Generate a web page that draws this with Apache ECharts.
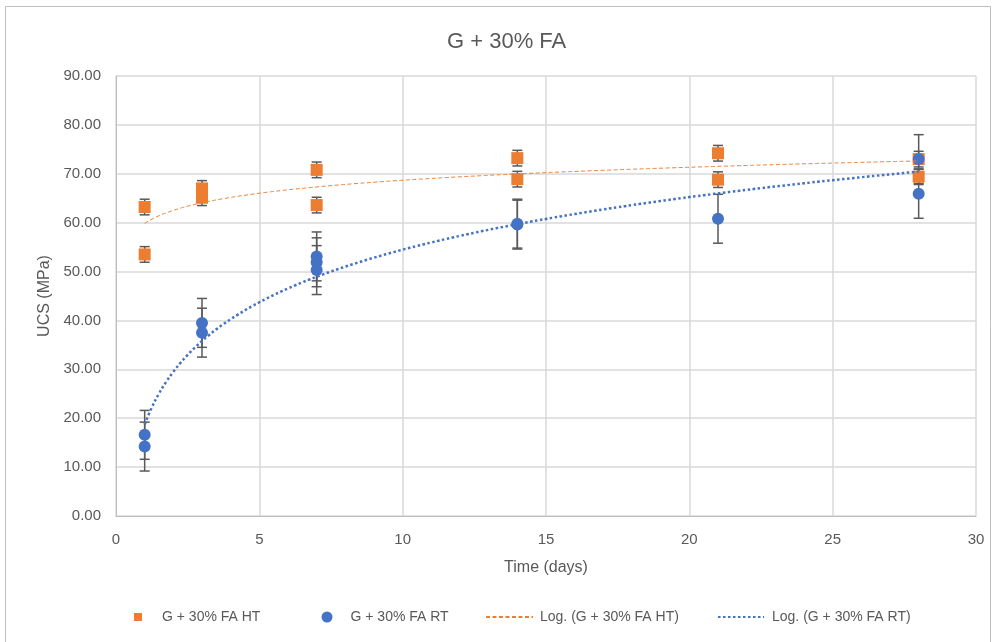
<!DOCTYPE html>
<html><head><meta charset="utf-8">
<script src="https://cdn.jsdelivr.net/npm/echarts@6/dist/echarts.min.js"></script>
<style>html,body{margin:0;padding:0;background:#fff}#c{width:997px;height:642px}</style>
</head><body><div id="c"></div>
<script>
// ---- data ----
const htDays   = [1, 1, 3, 3, 7, 7, 14, 14, 21, 21, 28, 28];
const htUCS    = [63.2, 53.5, 67.0, 65.1, 70.8, 63.6, 73.2, 68.9, 74.2, 68.8, 73.0, 69.4];
const htErr    = [1.6, 1.6, 1.6, 1.6, 1.6, 1.6, 1.6, 1.6, 1.6, 1.6, 1.6, 1.6];
const rtDays   = [1, 1, 3, 3, 7, 7, 7, 14, 14, 21, 28, 28];
const rtUCS    = [16.6, 14.2, 39.5, 37.5, 53.1, 51.9, 50.3, 59.6, 59.8, 60.8, 73.0, 65.9];
const rtErr    = [5, 5, 5, 5, 5, 5, 5, 5, 5, 5, 5, 5];
const yTicks   = [0, 10, 20, 30, 40, 50, 60, 70, 80, 90];
const xTicks   = [0, 5, 10, 15, 20, 25, 30];
const names    = ['G + 30% FA HT', 'G + 30% FA RT', 'Log. (G + 30% FA HT)', 'Log. (G + 30% FA RT)'];

// logarithmic least-squares trendline (as Excel's "Log." trendline), derived from the data
function logFit(xs, ys) {
  const n = xs.length, l = xs.map(Math.log);
  const lm = l.reduce((a, b) => a + b, 0) / n, ym = ys.reduce((a, b) => a + b, 0) / n;
  let sxy = 0, sxx = 0;
  for (let i = 0; i < n; i++) { sxy += (l[i] - lm) * (ys[i] - ym); sxx += (l[i] - lm) ** 2; }
  const a = sxy / sxx, b = ym - a * lm;
  const pts = [];
  const x0 = Math.min(...xs), x1 = Math.max(...xs);
  for (let x = x0; x <= x1 + 1e-9; x += 0.25) pts.push([x, a * Math.log(x) + b]);
  return pts;
}
const htTrend = logFit(htDays, htUCS);
const rtTrend = logFit(rtDays, rtUCS);

const FONT = "'Liberation Sans', 'Open Sans', sans-serif";
const TXT = '#595959';

function errSeries(days, vals, errs) {
  return {
    type: 'custom', z: 2, silent: true,
    data: days.map((d, i) => [d, vals[i], errs[i]]),
    encode: { x: 0, y: 1 },
    renderItem: function (params, api) {
      const x = api.value(0), y = api.value(1), e = api.value(2);
      const hi = api.coord([x, y + e]), lo = api.coord([x, y - e]);
      const w = 5;
      const st = { stroke: '#595959', lineWidth: 1.5 };
      return { type: 'group', children: [
        { type: 'line', shape: { x1: hi[0], y1: hi[1], x2: lo[0], y2: lo[1] }, style: st },
        { type: 'line', shape: { x1: hi[0] - w, y1: hi[1], x2: hi[0] + w, y2: hi[1] }, style: st },
        { type: 'line', shape: { x1: lo[0] - w, y1: lo[1], x2: lo[0] + w, y2: lo[1] }, style: st }
      ]};
    }
  };
}

const hiddenSym = { color: 'rgba(0,0,0,0)', borderColor: 'rgba(0,0,0,0)', borderWidth: 0, opacity: 0 };
function leg(left, data, w, h, padL, extra) {
  return Object.assign({
    top: 605, left: left, itemWidth: w, itemHeight: h, selectedMode: false, data: data,
    textStyle: { color: TXT, fontSize: 14, fontFamily: FONT, padding: [0, 0, 0, padL] }
  }, extra || {});
}

const chart = echarts.init(document.getElementById('c'), null, { renderer: 'canvas' });
chart.setOption({
  animation: false,
  backgroundColor: '#fff',
  graphic: [{ type: 'rect', shape: { x: 5.5, y: 6.5, width: 985, height: 640 }, style: { fill: 'none', stroke: '#BFBFBF', lineWidth: 1 }, silent: true }],
  title: { text: 'G + 30% FA', left: 442, top: 26, textStyle: { color: TXT, fontSize: 22, fontWeight: 'normal', fontFamily: FONT } },
  grid: { left: 116, right: 21, top: 76, bottom: 126 },
  legend: [
    leg(129, [{ name: names[0], icon: 'rect', itemStyle: { color: '#ED7D31' } }], 8, 8, 15),
    leg(316.5, [{ name: names[1], icon: 'circle', itemStyle: { color: '#4472C4' } }], 11, 11, 13),
    leg(480, [names[2]], 47, 12, 2, { itemStyle: hiddenSym }),
    leg(712, [names[3]], 46, 12, 3, { itemStyle: hiddenSym })
  ],
  xAxis: {
    type: 'value', min: xTicks[0], max: xTicks[xTicks.length - 1], interval: 5,
    name: 'Time (days)', nameLocation: 'middle', nameGap: 44,
    nameTextStyle: { color: TXT, fontSize: 16, fontFamily: FONT },
    axisLine: { show: true, lineStyle: { color: '#BFBFBF', width: 1 } },
    axisTick: { show: false },
    axisLabel: { color: TXT, fontSize: 15, fontFamily: FONT, margin: 16 },
    splitLine: { show: true, lineStyle: { color: '#D9D9D9', width: 1.5 } }
  },
  yAxis: {
    type: 'value', min: yTicks[0], max: yTicks[yTicks.length - 1], interval: 10,
    name: 'UCS (MPa)', nameLocation: 'middle', nameGap: 61, nameRotate: 90,
    nameTextStyle: { color: TXT, fontSize: 16, fontFamily: FONT },
    axisLine: { show: true, lineStyle: { color: '#BFBFBF', width: 1 } },
    axisTick: { show: false },
    axisLabel: { color: TXT, fontSize: 15, fontFamily: FONT, margin: 15, formatter: v => v.toFixed(2) },
    splitLine: { show: true, lineStyle: { color: '#D9D9D9', width: 1.5 } }
  },
  series: [
    { name: names[0], type: 'scatter', z: 3, symbol: 'rect', symbolSize: 12,
      itemStyle: { color: '#ED7D31', opacity: 1 }, data: htDays.map((d, i) => [d, htUCS[i]]) },
    { name: names[1], type: 'scatter', z: 3, symbol: 'circle', symbolSize: 12,
      itemStyle: { color: '#4472C4', opacity: 1 }, data: rtDays.map((d, i) => [d, rtUCS[i]]) },
    { name: names[2], type: 'line', z: 4, symbol: 'none', smooth: true, data: htTrend,
      itemStyle: { color: '#ED7D31' }, lineStyle: { color: '#ED7D31', width: 1, type: [4, 2.5] } },
    { name: names[3], type: 'line', z: 4, symbol: 'none', smooth: true, data: rtTrend,
      itemStyle: { color: '#4472C4' }, lineStyle: { color: '#4472C4', width: 2.5, type: [2.5, 2.5] } },
    errSeries(htDays, htUCS, htErr),
    errSeries(rtDays, rtUCS, rtErr)
  ]
});
</script></body></html>
